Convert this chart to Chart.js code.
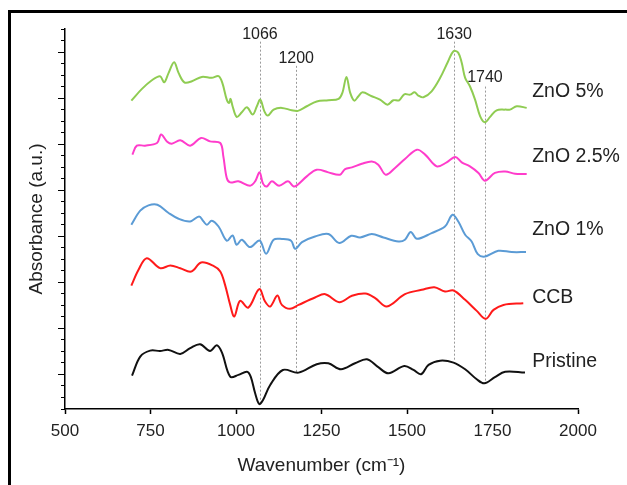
<!DOCTYPE html>
<html>
<head>
<meta charset="utf-8">
<script src="https://cdn.jsdelivr.net/npm/chart.js@4/dist/chart.umd.min.js"></script>
<style>
  html, body { margin: 0; padding: 0; background: #fff; overflow: hidden; }
  canvas { display: block; }
</style>
</head>
<body>
<canvas id="c" width="627" height="485"></canvas>
<script>
// ---- data (wavenumber in cm^-1, absorbance in arbitrary offset units) ----
const seriesNames = ['ZnO 5%', 'ZnO 2.5%', 'ZnO 1%', 'CCB', 'Pristine'];

const zno5Wn  = [694,725,754,778,790,803,819,832,849,871,900,929,949,960,973,980,984,990,1002,1017,1032,1049,1061,1071,1083,1093,1110,1134,1163,1181,1207,1236,1270,1300,1311,1323,1334,1346,1358,1370,1397,1421,1443,1460,1477,1492,1509,1522,1533,1548,1572,1597,1619,1636,1650,1660,1670,1684,1699,1714,1728,1743,1762,1787,1801,1821,1850];
const zno5Abs = [26.78,27.80,28.55,28.90,28.37,29.19,30.11,29.19,28.37,28.46,28.84,28.76,28.90,28.32,26.87,26.58,26.93,26.29,25.37,25.77,26.20,25.57,26.29,26.87,25.85,25.48,26.00,26.15,25.94,25.89,26.29,26.70,26.81,26.93,27.45,28.84,27.45,26.78,27.16,27.50,27.16,26.87,26.43,26.81,26.81,27.33,27.30,27.50,27.22,27.07,27.59,28.76,30.11,31.07,30.93,30.06,28.76,28.03,26.87,25.42,24.90,25.37,25.94,26.00,26.00,26.29,26.15];

const zno25Wn  = [697,710,734,769,781,798,812,837,866,898,924,954,963,973,983,1007,1041,1056,1069,1079,1090,1105,1126,1152,1168,1178,1207,1236,1270,1304,1319,1339,1368,1397,1416,1438,1465,1494,1529,1553,1587,1616,1641,1660,1684,1709,1728,1757,1787,1816,1850];
const zno25Abs = [22.09,22.87,22.87,23.10,23.83,23.24,23.04,23.33,22.87,23.54,23.24,23.10,21.94,20.06,19.68,19.77,19.39,19.77,20.55,19.57,19.33,19.77,19.39,19.77,19.33,19.42,20.20,20.78,20.55,20.35,20.84,20.98,21.30,21.50,21.22,20.35,20.93,21.71,22.52,22.09,21.07,21.42,21.89,21.42,21.07,20.50,19.83,20.50,20.63,20.43,20.41];

const zno1Wn  = [694,720,744,770,803,832,866,892,905,915,929,949,973,990,1002,1017,1041,1069,1088,1110,1134,1161,1173,1193,1231,1270,1302,1337,1363,1397,1431,1475,1494,1511,1529,1572,1611,1633,1650,1670,1689,1707,1728,1767,1806,1848];
const zno1Abs = [16.00,17.22,17.68,17.74,17.02,16.52,16.29,16.72,16.29,16.00,16.35,15.85,14.61,15.07,14.26,14.70,14.06,14.63,13.48,14.70,14.76,14.61,13.91,14.50,14.98,15.19,14.41,15.04,14.90,15.19,14.90,14.55,14.70,15.37,14.78,15.28,15.85,16.87,16.29,15.13,14.55,13.45,13.24,13.74,13.63,13.63];

const ccbWn  = [694,715,739,778,808,837,869,898,934,954,968,983,995,1012,1036,1068,1085,1100,1121,1134,1158,1183,1231,1261,1302,1339,1378,1407,1441,1494,1543,1580,1611,1636,1670,1704,1730,1753,1782,1840];
const ccbAbs = [10.72,12.09,13.10,12.23,12.46,12.23,11.94,12.72,12.43,11.94,10.78,9.04,8.03,9.39,8.81,10.41,9.33,8.90,9.85,9.04,8.70,9.04,9.68,9.97,9.28,9.83,10.03,9.63,8.90,9.97,10.35,10.58,10.20,10.29,9.48,8.52,7.83,8.61,9.04,9.19];

const pristineWn  = [696,720,749,778,803,837,866,895,924,944,959,983,1007,1032,1043,1056,1068,1079,1100,1137,1183,1236,1270,1307,1348,1383,1416,1446,1492,1519,1541,1563,1597,1636,1670,1704,1726,1757,1787,1845];
const pristineAbs = [2.90,4.55,5.07,5.04,5.13,4.78,5.28,5.63,5.04,5.54,4.90,2.81,2.96,3.24,2.81,1.37,0.43,0.78,2.09,3.39,3.16,3.89,3.97,3.45,3.97,4.32,3.63,3.10,3.74,3.39,3.02,3.83,4.20,4.03,3.45,2.58,2.23,2.76,3.24,3.16];

const xTicks = [500, 750, 1000, 1250, 1500, 1750, 2000];
const peakLabels = ['1066', '1200', '1630', '1740'];
const peakWn = [1070, 1176, 1638, 1728];

// ---- styles / placement (not data) ----
const colors = ['#8fcc52', '#ff3ccb', '#5b9bd5', '#ff1a1a', '#111111'];
const FONT = '"Liberation Sans", Arial, sans-serif';
const TEXT = '#222';
const peakLineTop = [31.9, 29.8, 31.9, 28.0];
const peakLineBottom = [0.35, 3.2, 4.1, 2.26];
const peakTextY = [32.55, 30.4, 32.55, 28.75];
const seriesLabelX = 1866;
const seriesLabelY = [27.57, 21.91, 15.57, 9.65, 4.09];

const toPts = (xs, ys) => xs.map((x, i) => ({ x: x, y: ys[i] }));
const allWn = [zno5Wn, zno25Wn, zno1Wn, ccbWn, pristineWn];
const allAbs = [zno5Abs, zno25Abs, zno1Abs, ccbAbs, pristineAbs];

const datasets = seriesNames.map((name, i) => ({
  label: name,
  data: toPts(allWn[i], allAbs[i]),
  borderColor: colors[i],
  borderWidth: 2,
  pointRadius: 0,
  fill: false,
  tension: 0.35
}));

const annotate = {
  id: 'annotate',
  beforeDraw(chart) {
    const ctx = chart.ctx;
    ctx.save();
    ctx.fillStyle = '#fff';
    ctx.fillRect(0, 0, chart.width, chart.height);
    ctx.fillStyle = '#000';
    ctx.fillRect(8, 10, chart.width - 8, 3);   // top frame edge
    ctx.fillRect(8, 10, 3, chart.height - 10); // left frame edge
    ctx.restore();
  },
  beforeDatasetsDraw(chart) {
    const { ctx, scales: { x, y } } = chart;
    ctx.save();
    ctx.strokeStyle = '#9a9a9a';
    ctx.lineWidth = 1;
    ctx.setLineDash([2, 2]);
    peakWn.forEach((w, i) => {
      const px = Math.round(x.getPixelForValue(w)) + 0.5;
      ctx.beginPath();
      ctx.moveTo(px, y.getPixelForValue(peakLineTop[i]));
      ctx.lineTo(px, y.getPixelForValue(peakLineBottom[i]));
      ctx.stroke();
    });
    ctx.restore();
  },
  afterDraw(chart) {
    const { ctx, scales: { x, y } } = chart;
    ctx.save();
    ctx.fillStyle = TEXT;
    ctx.textBaseline = 'middle';
    ctx.textAlign = 'center';
    ctx.font = '16px ' + FONT;
    peakLabels.forEach((t, i) => {
      ctx.fillText(t, x.getPixelForValue(peakWn[i]), y.getPixelForValue(peakTextY[i]));
    });
    ctx.textAlign = 'left';
    ctx.font = '19.5px ' + FONT;
    seriesNames.forEach((t, i) => {
      ctx.fillText(t, x.getPixelForValue(seriesLabelX), y.getPixelForValue(seriesLabelY[i]));
    });
    // longer major ticks on the y axis
    ctx.strokeStyle = '#000';
    ctx.lineWidth = 1;
    ctx.setLineDash([]);
    const ax = x.getPixelForValue(500);
    for (let v = 3; v <= 33; v += 4) {
      const py = Math.round(y.getPixelForValue(v)) + 0.5;
      ctx.beginPath();
      ctx.moveTo(ax - 7, py);
      ctx.lineTo(ax, py);
      ctx.stroke();
    }
    ctx.restore();
  }
};

new Chart(document.getElementById('c'), {
  type: 'line',
  data: { datasets },
  options: {
    responsive: false,
    animation: false,
    layout: { padding: { top: 29, right: 49, left: 0, bottom: 0 } },
    plugins: { legend: { display: false }, tooltip: { enabled: false } },
    scales: {
      x: {
        type: 'linear',
        min: 500, max: 2000,
        afterFit: s => { s.height = 76; },
        afterBuildTicks: s => { s.ticks = xTicks.map(v => ({ value: v })); },
        grid: { drawOnChartArea: false, drawTicks: true, tickLength: 5, color: '#000', tickWidth: 1.5 },
        border: { display: true, color: '#000', width: 1.5 },
        ticks: { color: TEXT, padding: 7, font: { family: FONT, size: 17 }, maxRotation: 0,
                 callback: v => String(v) },
        title: { display: true, text: 'Wavenumber (cm\u207B\u00B9)', color: TEXT,
                 font: { family: FONT, size: 19 }, padding: { top: 0, bottom: 8 } }
      },
      y: {
        type: 'linear',
        min: 0, max: 33,
        afterFit: s => { s.width = 65; },
        ticks: { display: false, stepSize: 1 },
        grid: { drawOnChartArea: false, drawTicks: true, tickLength: 4, color: '#000', tickWidth: 1 },
        border: { display: true, color: '#000', width: 1.5 },
        title: { display: true, text: 'Absorbance (a.u.)', color: TEXT,
                 font: { family: FONT, size: 19 }, padding: { top: 25, bottom: 0 } }
      }
    }
  },
  plugins: [annotate]
});
</script>
</body>
</html>
